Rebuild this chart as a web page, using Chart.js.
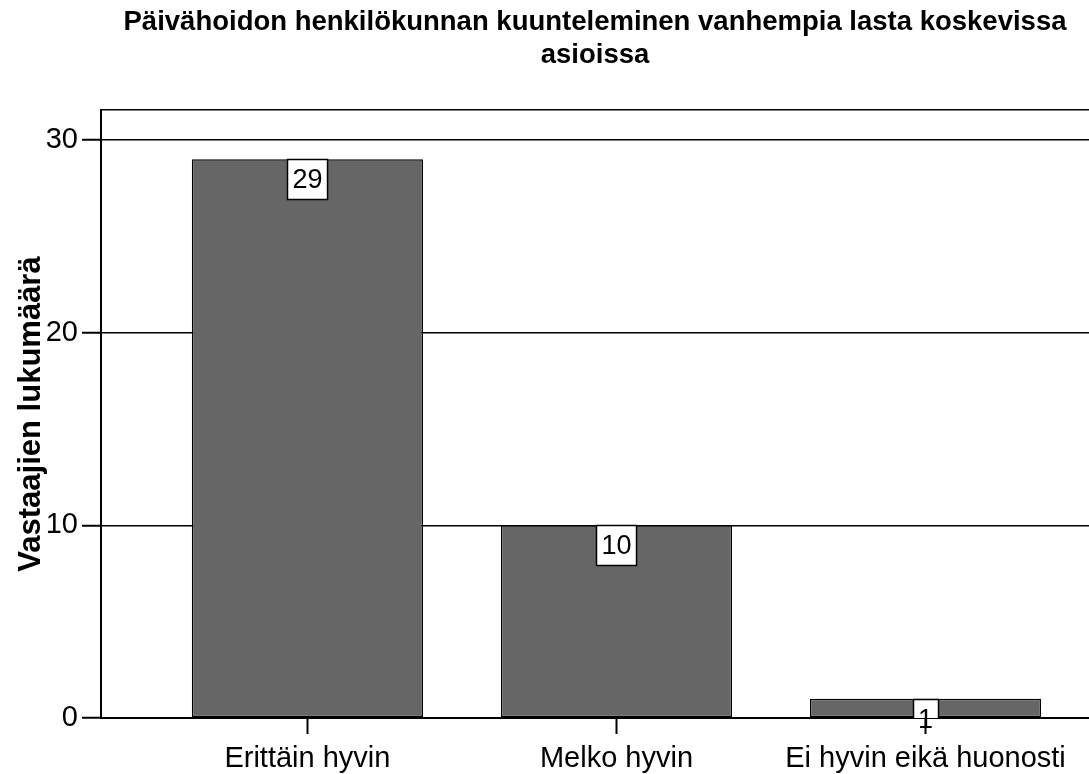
<!DOCTYPE html>
<html lang="fi">
<head>
  <meta charset="UTF-8" />
  <title>Päivähoidon henkilökunnan kuunteleminen</title>
  <script src="https://cdn.jsdelivr.net/npm/chart.js"></script>
  <style>
    html, body { margin: 0; padding: 0; background: #fff; }
    #wrap { width: 1089px; height: 774px; position: relative; }
  </style>
</head>
<body>

<div id="wrap"><canvas id="chartCanvas"></canvas></div>

<script>
  // data
  const categories = ['Erittäin hyvin', 'Melko hyvin', 'Ei hyvin eikä huonosti'];
  const counts = [29, 10, 1];
  const yTicks = [0, 10, 20, 30];

  const FONT = '"Liberation Sans", Arial, sans-serif';
  Chart.defaults.color = '#000';
  Chart.defaults.font.family = FONT;

  // white boxed value labels hanging from the top of each bar
  const boxLabels = {
    id: 'boxLabels',
    afterDatasetsDraw(chart) {
      const ctx = chart.ctx;
      const area = chart.chartArea;
      const meta = chart.getDatasetMeta(0);
      ctx.save();
      ctx.font = '27px ' + FONT;
      ctx.textAlign = 'center';
      ctx.textBaseline = 'middle';
      meta.data.forEach((bar, i) => {
        const txt = String(counts[i]);
        const w = ctx.measureText(txt).width + 10;
        const h = 40;
        const x = Math.round(bar.x - w / 2) + 0.5;
        const y = Math.round(bar.y) + 0.5;
        // box is clipped by the plot frame, the number is not
        ctx.save();
        ctx.beginPath();
        ctx.rect(area.left, area.top, area.right - area.left, area.bottom - area.top);
        ctx.clip();
        ctx.fillStyle = '#fff';
        ctx.fillRect(x, y, w, h);
        ctx.strokeStyle = '#000';
        ctx.lineWidth = 1.5;
        ctx.strokeRect(x, y, w, h);
        ctx.restore();
        ctx.fillStyle = '#000';
        ctx.fillText(txt, bar.x, y + h / 2 + 1);
      });
      ctx.restore();
    }
  };

  const ctx = document.getElementById('chartCanvas').getContext('2d');

  new Chart(ctx, {
    type: 'bar',
    data: {
      datasets: [{
        data: counts.map((v, i) => ({ x: i, y: v })),
        backgroundColor: '#666666',
        borderColor: '#000',
        borderWidth: 1.5,
        borderSkipped: false,
        categoryPercentage: 1,
        barPercentage: 0.748
      }]
    },
    options: {
      responsive: true,
      maintainAspectRatio: false,
      animation: false,
      layout: { padding: 0 },
      plugins: {
        legend: { display: false },
        tooltip: { enabled: false },
        title: {
          display: true,
          fullSize: false,
          text: ['Päivähoidon henkilökunnan kuunteleminen vanhempia lasta koskevissa', 'asioissa'],
          color: '#000',
          font: { size: 27.5, weight: 'bold', family: FONT, lineHeight: 1.2 },
          padding: { top: 6, bottom: 38 }
        }
      },
      scales: {
        x: {
          type: 'linear',
          offset: false,
          min: -0.668,
          max: 2.529,
          afterBuildTicks: (scale) => {
            scale.ticks = categories.map((c, i) => ({ value: i }));
          },
          afterFit: (scale) => { scale.height = 56; },
          ticks: {
            autoSkip: false,
            maxRotation: 0,
            padding: 8,
            font: { size: 29 },
            callback: (v) => categories[v]
          },
          grid: {
            offset: false,
            drawOnChartArea: false,
            drawTicks: true,
            tickLength: 16,
            tickWidth: 2,
            tickColor: '#000'
          },
          border: { display: true, color: '#000', width: 2 }
        },
        y: {
          min: 0,
          max: 31.55,
          afterBuildTicks: (scale) => {
            scale.ticks = yTicks.map(v => ({ value: v })).concat([{ value: 31.55 }]);
          },
          afterFit: (scale) => { scale.width = 101; },
          ticks: {
            padding: 4,
            font: { size: 29 },
            callback: (v) => (yTicks.includes(v) ? v : '')
          },
          grid: {
            color: '#000',
            lineWidth: 1.5,
            drawTicks: true,
            tickLength: 19,
            tickWidth: 2,
            tickColor: (c) => (c.tick && yTicks.includes(c.tick.value) ? '#000' : 'rgba(0,0,0,0)')
          },
          border: { display: true, color: '#000', width: 2 },
          title: {
            display: true,
            text: 'Vastaajien lukumäärä',
            color: '#000',
            font: { size: 31, weight: 'bold', family: FONT, lineHeight: 1.2 },
            padding: { top: 13, bottom: 0 }
          }
        }
      }
    },
    plugins: [boxLabels]
  });
</script>

</body>
</html>
